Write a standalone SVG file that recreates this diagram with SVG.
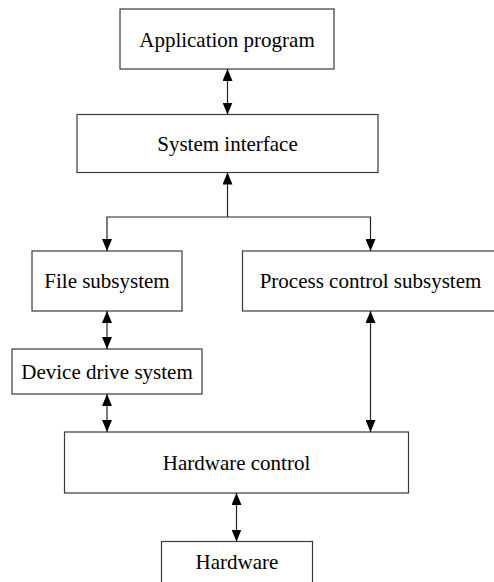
<svg xmlns="http://www.w3.org/2000/svg" width="494" height="582" viewBox="0 0 494 582">
  <style>
    .box { fill: #ffffff; stroke: #3a3a3a; stroke-width: 1.2; }
    .label { font-family: "Liberation Serif", "Times New Roman", serif; font-size: 21px; fill: #000000; text-anchor: middle; }
    .wire { fill: none; stroke: #222222; stroke-width: 1.2; }
    .one { marker-end: url(#head); }
    .two { marker-start: url(#head); marker-end: url(#head); }
  </style>
  <defs>
    <marker id="head" viewBox="0 0 12 10" refX="12" refY="5" markerWidth="12" markerHeight="10" markerUnits="userSpaceOnUse" orient="auto-start-reverse">
      <path d="M0,0 L12,5 L0,10 Z" fill="#000000"/>
    </marker>
  </defs>
  <rect width="494" height="582" fill="#ffffff"/>

  <g id="app-program">
    <rect class="box" x="120" y="9" width="214" height="60"/>
    <text class="label" x="227" y="47">Application program</text>
  </g>
  <g id="system-interface">
    <rect class="box" x="77" y="114.5" width="301" height="58"/>
    <text class="label" x="227.5" y="150.5">System interface</text>
  </g>
  <g id="file-subsystem">
    <rect class="box" x="32" y="251" width="150" height="60"/>
    <text class="label" x="107" y="288">File subsystem</text>
  </g>
  <g id="process-control">
    <rect class="box" x="242.5" y="251" width="260" height="60"/>
    <text class="label" x="370.5" y="288">Process control subsystem</text>
  </g>
  <g id="device-drive">
    <rect class="box" x="12" y="349" width="190" height="45"/>
    <text class="label" x="107" y="379">Device drive system</text>
  </g>
  <g id="hardware-control">
    <rect class="box" x="64.5" y="432" width="344" height="61"/>
    <text class="label" x="236.5" y="469.5">Hardware control</text>
  </g>
  <g id="hardware">
    <rect class="box" x="161.5" y="541.5" width="151" height="50"/>
    <text class="label" x="237" y="568.5">Hardware</text>
  </g>

  <g id="connectors">
    <line class="wire two" x1="227.5" y1="69" x2="227.5" y2="114.5"/>
    <line class="wire one" x1="227.5" y1="217" x2="227.5" y2="172.5"/>
    <polyline class="wire one" points="227.5,217 107,217 107,251"/>
    <polyline class="wire one" points="227.5,217 370.5,217 370.5,251"/>
    <line class="wire two" x1="107" y1="311" x2="107" y2="349"/>
    <line class="wire two" x1="107" y1="394" x2="107" y2="432"/>
    <line class="wire two" x1="370.5" y1="311" x2="370.5" y2="432"/>
    <line class="wire two" x1="236.5" y1="493" x2="236.5" y2="541.5"/>
  </g>
</svg>
